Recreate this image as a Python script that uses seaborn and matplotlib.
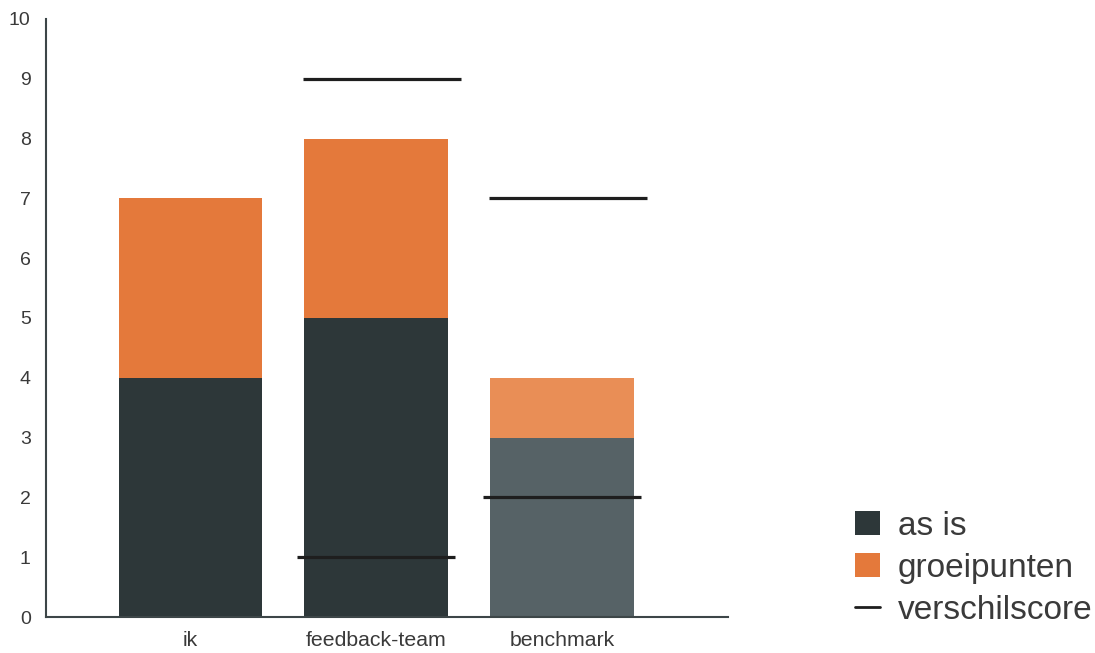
import matplotlib
matplotlib.use("Agg")
import matplotlib.pyplot as plt
from matplotlib.patches import Patch
from matplotlib.lines import Line2D
import seaborn as sns
import pandas as pd

# Scores per perspective
categories = ["ik", "feedback-team", "benchmark"]
as_is = [4, 5, 3]
groeipunten = [3, 3, 1]
# Difference-score markers (upper and lower) per perspective; None = no marker
verschil_boven = [None, 9, 7]
verschil_onder = [None, 1, 2]
y_ticks = list(range(0, 11))

dark_colors = {"ik": "#2d3739", "feedback-team": "#2d3739", "benchmark": "#566266"}
orange_colors = {"ik": "#e4793b", "feedback-team": "#e4793b", "benchmark": "#e98e56"}
line_color = "#1e1e1e"
text_color = "#3a3a3a"
spine_color = "#3d4648"

sns.set_style("white")
plt.rcParams["font.family"] = ["Liberation Sans", "DejaVu Sans"]

df = pd.DataFrame({
    "categorie": categories,
    "as_is": as_is,
    "totaal": [a + g for a, g in zip(as_is, groeipunten)],
})

fig = plt.figure(figsize=(10.95, 6.53), dpi=100)
ax = fig.add_axes([0.042, 0.0551, 0.623, 0.916])

bar_w = 0.774
# Stacked bars: full height in orange, "as is" part in dark on top of it
sns.barplot(data=df, x="categorie", y="totaal", hue="categorie", palette=orange_colors,
            width=bar_w, saturation=1, legend=False, ax=ax, edgecolor="none")
sns.barplot(data=df, x="categorie", y="as_is", hue="categorie", palette=dark_colors,
            width=bar_w, saturation=1, legend=False, ax=ax, edgecolor="none")

# verschilscore markers
half = 0.425
for i, (hi, lo) in enumerate(zip(verschil_boven, verschil_onder)):
    if hi is not None:
        ax.hlines(hi, i - half + 0.03, i + half + 0.03, color=line_color, lw=2.3, zorder=5)
    if lo is not None:
        ax.hlines(lo, i - half, i + half, color=line_color, lw=2.3, zorder=5)

ax.set_ylim(0, 10)
ax.set_xlim(-0.777, 2.892)
ax.set_yticks(y_ticks)
ax.set_xlabel("")
ax.set_ylabel("")

for side in ["top", "right"]:
    ax.spines[side].set_visible(False)
for side in ["left", "bottom"]:
    ax.spines[side].set_color(spine_color)
    ax.spines[side].set_linewidth(1.5)

ax.tick_params(axis="y", direction="in", length=11, width=1.3, color=spine_color,
               labelsize=14, labelcolor=text_color, pad=11)
ax.tick_params(axis="x", length=0, labelsize=15.3, labelcolor=text_color, pad=10)

handles = [
    Patch(facecolor="#2d3739", edgecolor="none", label="as is"),
    Patch(facecolor="#e4793b", edgecolor="none", label="groeipunten"),
    Line2D([0], [0], color=line_color, lw=2.0, label="verschilscore"),
]
fig.legend(handles=handles, loc="lower left", bbox_to_anchor=(0.753, -0.004),
           frameon=False, fontsize=24, handlelength=0.75, handleheight=0.75,
           handletextpad=0.55, labelspacing=0.33, labelcolor=text_color)

fig.savefig("out.png", dpi=100)
